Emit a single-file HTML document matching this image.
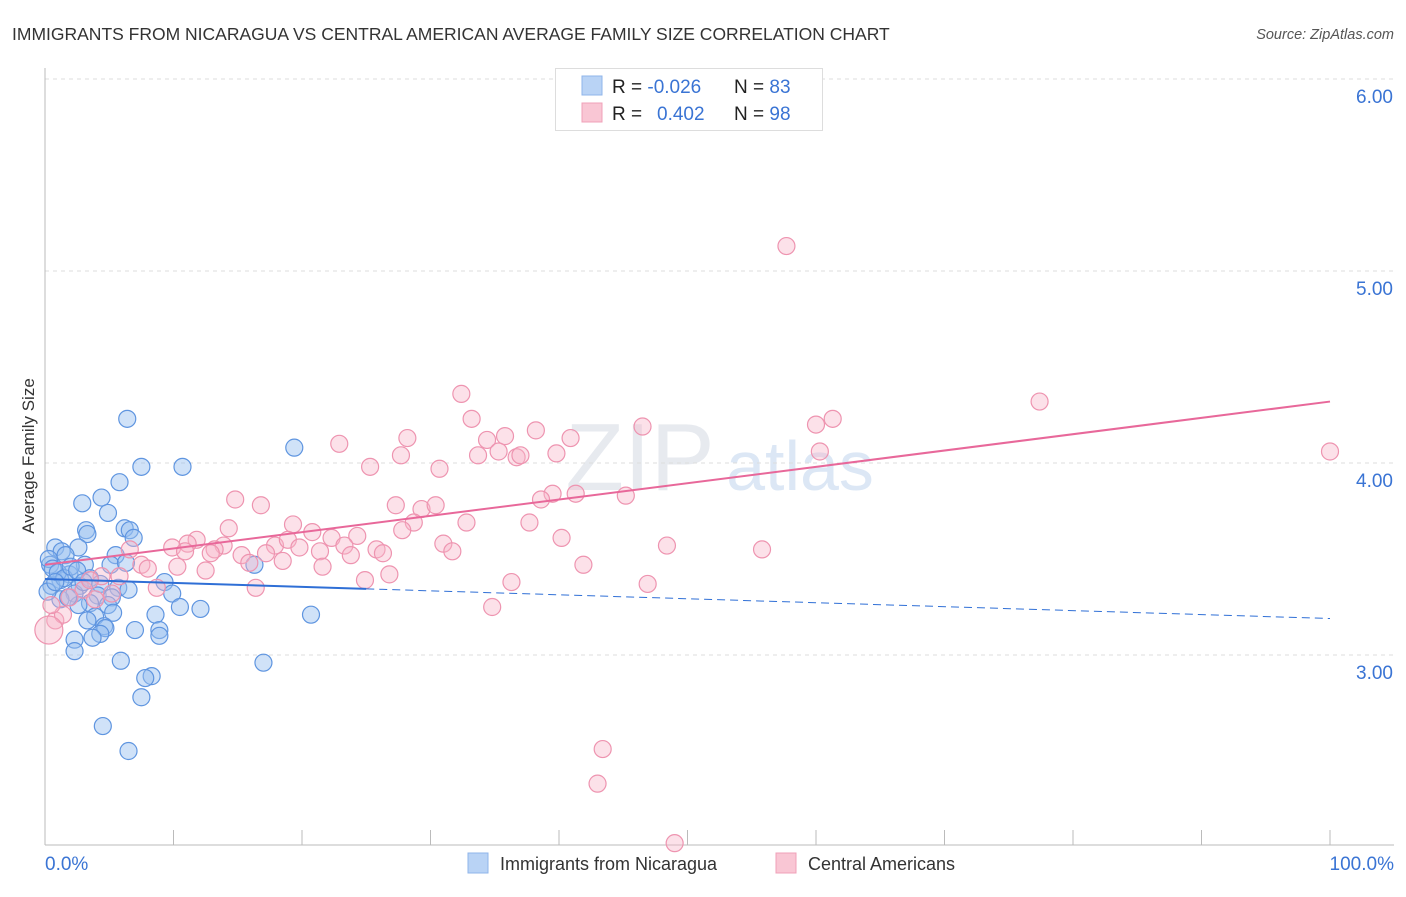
<!DOCTYPE html>
<html><head><meta charset="utf-8"><style>
body{margin:0;background:#fff;font-family:"Liberation Sans",sans-serif;}
svg text{font-family:"Liberation Sans",sans-serif;}
</style></head><body>
<svg id="chart" width="1406" height="892">
<text x="12" y="40" font-size="17.5" fill="#333">IMMIGRANTS FROM NICARAGUA VS CENTRAL AMERICAN AVERAGE FAMILY SIZE CORRELATION CHART</text>
<text x="1394" y="39" font-size="14.5" fill="#555" font-style="italic" text-anchor="end">Source: ZipAtlas.com</text>
<text x="34" y="456" font-size="17" fill="#333" text-anchor="middle" transform="rotate(-90 34 456)">Average Family Size</text>
<text x="640" y="490" font-size="96" fill="#d8dde6" font-family="Liberation Serif" text-anchor="middle" opacity="0.6">ZIP</text>
<text x="800" y="490" font-size="70" fill="#c5d8ef" text-anchor="middle" opacity="0.6">atlas</text>
<g id="grid"></g><g id="axes"></g><g id="pts"></g><g id="lines"></g>
<g>
<rect x="555.5" y="68.5" width="267" height="62" fill="#fff" stroke="#ddd"/>
<rect x="582" y="76" width="20" height="19" fill="#b9d3f5" stroke="#8fb4ea"/>
<rect x="582" y="103" width="20" height="19" fill="#f9c6d4" stroke="#f0a0b8"/>
<text x="612" y="93" font-size="19" fill="#222">R = <tspan fill="#3a74d4">-0.026</tspan><tspan x="734">N = </tspan><tspan fill="#3a74d4">83</tspan></text>
<text x="612" y="120" font-size="19" fill="#222">R = <tspan x="657" fill="#3a74d4">0.402</tspan><tspan x="734">N = </tspan><tspan fill="#3a74d4">98</tspan></text>
</g>
<g>
<rect x="468" y="853" width="20" height="20" fill="#b9d3f5" stroke="#8fb4ea"/>
<text x="500" y="870" font-size="18" fill="#333">Immigrants from Nicaragua</text>
<rect x="776" y="853" width="20" height="20" fill="#f9c6d4" stroke="#f0a0b8"/>
<text x="808" y="870" font-size="18" fill="#333">Central Americans</text>
</g>
</svg>
<script>
const yTicks=[3,4,5,6];
const yTickLabels=["3.00","4.00","5.00","6.00"];
const xTickLabels=["0.0%","100.0%"];
const blueX=[6.4,19.4,10.7,7.5,5.8,2.9,4.4,4.9,3.2,3.3,6.2,6.6,6.9,0.8,1.3,2.6,5.5,1.6,0.4,3.1,5.1,16.3,6.3,1.9,1.2,3.5,0.5,2.7,4.3,5.7,6.5,9.3,9.9,2.3,4.1,5.2,1.2,3.5,2.6,4.9,10.5,12.1,8.6,5.3,3.9,20.7,3.3,4.6,7.0,8.9,4.7,4.3,2.3,8.9,3.7,2.3,5.9,17.0,8.3,7.8,7.5,4.5,6.5,0.3,0.6,1.0,1.5,0.2,2.0,1.8,0.8,2.5,3.0];
const blueY=[4.23,4.08,3.98,3.98,3.90,3.79,3.82,3.74,3.65,3.63,3.66,3.65,3.61,3.56,3.54,3.56,3.52,3.52,3.47,3.47,3.47,3.47,3.48,3.42,3.39,3.40,3.36,3.36,3.37,3.35,3.34,3.38,3.32,3.32,3.31,3.30,3.29,3.27,3.26,3.26,3.25,3.24,3.21,3.22,3.20,3.21,3.18,3.15,3.13,3.13,3.14,3.11,3.08,3.10,3.09,3.02,2.97,2.96,2.89,2.88,2.78,2.63,2.50,3.50,3.45,3.43,3.40,3.33,3.46,3.30,3.38,3.44,3.38];
const pinkX=[57.7,32.4,77.4,61.3,60.0,33.2,46.5,22.9,28.2,34.4,35.8,38.2,40.9,35.3,33.7,27.7,36.7,37.0,39.8,60.3,100,25.3,30.7,14.8,16.8,27.3,29.3,30.4,39.5,41.3,38.6,45.2,28.7,32.8,37.7,14.3,19.3,20.8,27.8,40.2,11.8,11.1,13.9,17.9,18.9,22.3,24.3,9.9,13.2,19.8,21.4,23.3,31.0,48.4,55.8,10.9,12.9,15.3,17.2,23.8,25.8,26.3,31.7,6.6,7.5,8.0,12.5,15.9,18.5,21.6,41.9,10.3,5.8,4.4,26.8,24.9,36.3,46.9,16.4,3.0,8.7,1.9,34.8,0.8,1.4,0.5,0.3,43.4,43.0,49.0,5.2,3.9,3.5];
const pinkY=[5.13,4.36,4.32,4.23,4.20,4.23,4.19,4.10,4.13,4.12,4.14,4.17,4.13,4.06,4.04,4.04,4.03,4.04,4.05,4.06,4.06,3.98,3.97,3.81,3.78,3.78,3.76,3.78,3.84,3.84,3.81,3.83,3.69,3.69,3.69,3.66,3.68,3.64,3.65,3.61,3.60,3.58,3.57,3.57,3.60,3.61,3.62,3.56,3.55,3.56,3.54,3.57,3.58,3.57,3.55,3.54,3.53,3.52,3.53,3.52,3.55,3.53,3.54,3.55,3.47,3.45,3.44,3.48,3.49,3.46,3.47,3.46,3.41,3.41,3.42,3.39,3.38,3.37,3.35,3.34,3.35,3.30,3.25,3.18,3.21,3.26,3.13,2.51,2.33,2.02,3.32,3.29,3.39];
const blueTrend=[3.396,3.19];
const pinkTrend=[3.47,4.32];
const NS="http://www.w3.org/2000/svg";
const X=v=>45+v*12.85, Y=v=>655-(v-3)*192;
function mk(tag,attrs,parent){const e=document.createElementNS(NS,tag);for(const k in attrs)e.setAttribute(k,attrs[k]);parent.appendChild(e);return e;}
const grid=document.getElementById('grid'),axes=document.getElementById('axes'),pts=document.getElementById('pts'),lines=document.getElementById('lines');
yTicks.forEach((t,i)=>{
 const l=mk('line',{x1:45,x2:1394,y1:Y(t),y2:Y(t),stroke:'#ddd','stroke-dasharray':'4,4'},grid);
 
 
 const tx=mk('text',{x:1393,y:Y(t)+24,'font-size':19,fill:'#3a74d4','text-anchor':'end'},axes);
 tx.textContent=yTickLabels[i];
 
 
});
const ya=mk('line',{x1:45,x2:45,y1:68,y2:845,stroke:'#bbb'},axes);


const xa=mk('line',{x1:45,x2:1394,y1:845,y2:845,stroke:'#bbb'},axes);


for(let i=0;i<=10;i++){const t=mk('line',{x1:X(i*10),x2:X(i*10),y1:830,y2:845,stroke:'#bbb'},axes);
 
 }
xTickLabels.forEach((s,i)=>{const t=mk('text',{x:i?1394:45,y:870,'font-size':19,fill:'#3a74d4','text-anchor':i?'end':'start'},axes);t.textContent=s;
 
 });
blueX.forEach((x,i)=>{const c=mk('circle',{cx:X(x),cy:Y(blueY[i]),r:8.5,fill:'rgba(150,190,240,0.45)',stroke:'#5f95e0','stroke-width':1.2},pts);
 
 });
pinkX.forEach((x,i)=>{const c=mk('circle',{cx:X(x),cy:Y(pinkY[i]),r:(x<0.5&&pinkY[i]<3.15)?14:8.5,fill:'rgba(248,180,200,0.4)',stroke:'#ee94b0','stroke-width':1.2},pts);
 
 });
const bAt=v=>blueTrend[0]+(blueTrend[1]-blueTrend[0])*v/100;
const b1=mk('line',{x1:X(0),y1:Y(bAt(0)),x2:X(25),y2:Y(bAt(25)),stroke:'#2f6fd6','stroke-width':2},lines);


const b2=mk('line',{x1:X(25),y1:Y(bAt(25)),x2:X(100),y2:Y(bAt(100)),stroke:'#2f6fd6','stroke-width':1,'stroke-dasharray':'8,5'},lines);


const p1=mk('line',{x1:X(0),y1:Y(pinkTrend[0]),x2:X(100),y2:Y(pinkTrend[1]),stroke:'#e8689a','stroke-width':2},lines);


</script>
</body></html>
